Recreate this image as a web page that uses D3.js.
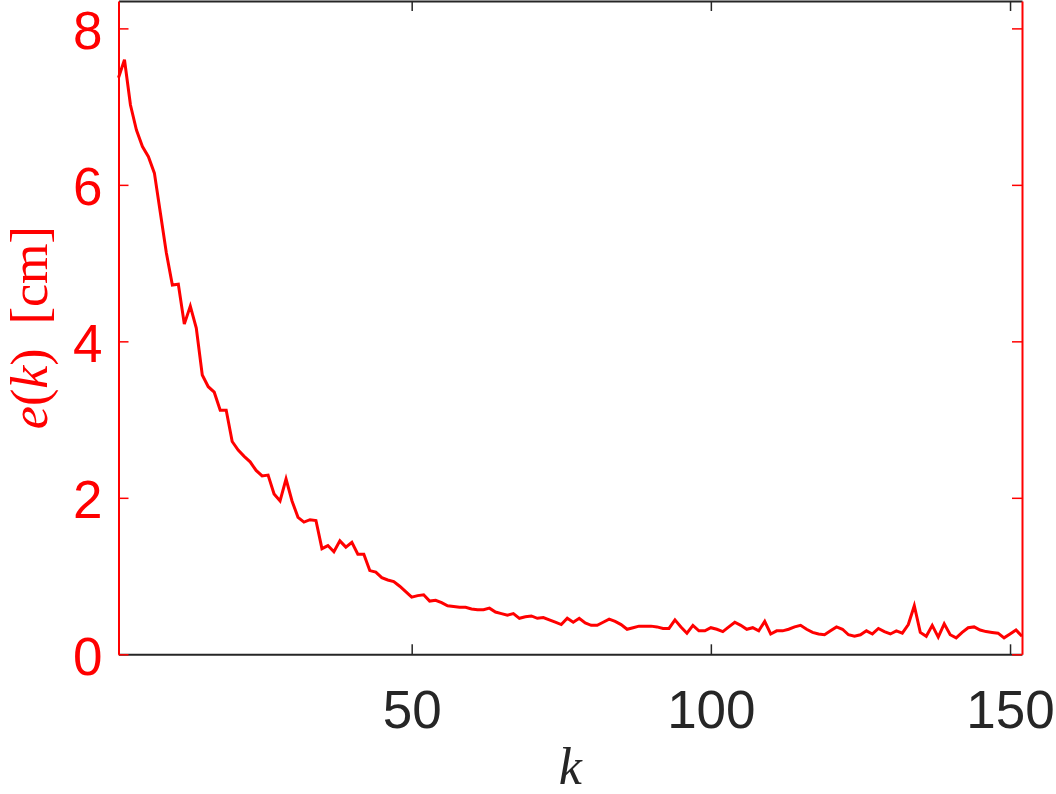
<!DOCTYPE html>
<html>
<head>
<meta charset="utf-8">
<script src="https://cdn.jsdelivr.net/npm/d3@7"></script>
<style>
  html, body { margin: 0; padding: 0; background: #fff; }
  svg { display: block; }
</style>
</head>
<body>
<svg id="chart" width="1056" height="794"></svg>
<script>
// ---- data ----
const kValues = d3.range(1, 153);
const errorValues = [
  7.37, 7.60, 7.02, 6.70, 6.49, 6.36, 6.15, 5.64, 5.13, 4.72,
  4.73, 4.22, 4.45, 4.17, 3.57, 3.42, 3.35, 3.12, 3.12, 2.72,
  2.61, 2.53, 2.46, 2.35, 2.28, 2.29, 2.05, 1.96, 2.24, 1.96,
  1.75, 1.69, 1.72, 1.71, 1.35, 1.39, 1.31, 1.45, 1.37, 1.43,
  1.28, 1.28, 1.07, 1.05, 0.98, 0.95, 0.93, 0.87, 0.80, 0.73,
  0.75, 0.76, 0.68, 0.69, 0.66, 0.62, 0.61, 0.60, 0.60, 0.58,
  0.57, 0.57, 0.59, 0.54, 0.52, 0.50, 0.52, 0.46, 0.48, 0.49,
  0.46, 0.47, 0.44, 0.41, 0.38, 0.46, 0.41, 0.46, 0.40, 0.37,
  0.37, 0.41, 0.45, 0.42, 0.38, 0.32, 0.34, 0.36, 0.36, 0.36,
  0.35, 0.33, 0.33, 0.44, 0.35, 0.27, 0.37, 0.30, 0.30, 0.34,
  0.32, 0.29, 0.35, 0.41, 0.37, 0.32, 0.34, 0.30, 0.42, 0.26,
  0.30, 0.30, 0.32, 0.35, 0.37, 0.32, 0.28, 0.26, 0.25, 0.30,
  0.35, 0.32, 0.25, 0.23, 0.25, 0.30, 0.26, 0.33, 0.29, 0.26,
  0.30, 0.27, 0.38, 0.62, 0.28, 0.23, 0.37, 0.22, 0.39, 0.25,
  0.21, 0.28, 0.34, 0.35, 0.31, 0.29, 0.28, 0.27, 0.21, 0.26,
  0.31, 0.23
];
const xTicks = [50, 100, 150];
const yTicks = [0, 2, 4, 6, 8];
const xDomain = [1, 152];
const yDomain = [0, 8.35];

// ---- layout ----
const L = 118.5, R = 1022, T = 1, B = 654.3;
const RED = "#ff0000", GRAY = "#262626";
const FONT = "'Liberation Sans', Arial, Helvetica, sans-serif";
const SERIF = "'Liberation Serif', 'DejaVu Serif', serif";

const svg = d3.select("#chart");
const x = d3.scaleLinear().domain(xDomain).range([L, R]);
const y = d3.scaleLinear().domain(yDomain).range([B, T]);

const data = kValues.map((k, i) => ({k, e: errorValues[i]}));

// data line
svg.append("path")
  .datum(data)
  .attr("fill", "none")
  .attr("stroke", RED)
  .attr("stroke-width", 3)
  .attr("stroke-linejoin", "miter")
  .attr("d", d3.line().x(d => x(d.k)).y(d => y(d.e)));

// bottom axis
const xAxisB = svg.append("g").attr("transform", `translate(0,${B})`)
  .call(d3.axisBottom(x).tickValues(xTicks).tickSizeInner(-10).tickSizeOuter(0).tickPadding(0).tickFormat(d3.format("d")));
xAxisB.select(".domain").attr("stroke", GRAY).attr("stroke-width", 2);
xAxisB.selectAll(".tick line").attr("stroke", GRAY).attr("stroke-width", 1.5);
xAxisB.selectAll(".tick text")
  .attr("fill", GRAY).attr("font-family", FONT).attr("font-size", 53)
  .attr("y", 74).attr("dy", 0);

// top axis
const xAxisT = svg.append("g").attr("transform", `translate(0,${T})`)
  .call(d3.axisTop(x).tickValues(xTicks).tickSizeInner(-10).tickSizeOuter(0).tickFormat(""));
xAxisT.select(".domain").attr("stroke", GRAY).attr("stroke-width", 2);
xAxisT.selectAll(".tick line").attr("stroke", GRAY).attr("stroke-width", 1.5);

// left axis
const yAxisL = svg.append("g").attr("transform", `translate(${L},0)`)
  .call(d3.axisLeft(y).tickValues(yTicks).tickSizeInner(-10).tickSizeOuter(0).tickPadding(0).tickFormat(d3.format("d")));
yAxisL.select(".domain").attr("stroke", RED).attr("stroke-width", 2);
yAxisL.selectAll(".tick line").attr("stroke", RED).attr("stroke-width", 1.5);
yAxisL.selectAll(".tick text")
  .attr("fill", RED).attr("font-family", FONT).attr("font-size", 53)
  .attr("x", -16).attr("dy", 0).attr("y", 20);

// right axis
const yAxisR = svg.append("g").attr("transform", `translate(${R},0)`)
  .call(d3.axisRight(y).tickValues(yTicks).tickSizeInner(-10).tickSizeOuter(0).tickFormat(""));
yAxisR.select(".domain").attr("stroke", RED).attr("stroke-width", 2);
yAxisR.selectAll(".tick line").attr("stroke", RED).attr("stroke-width", 1.5);

// x label
svg.append("text")
  .attr("x", (L + R) / 2).attr("y", 784)
  .attr("text-anchor", "middle")
  .attr("font-family", SERIF).attr("font-size", 52).attr("font-style", "italic")
  .attr("fill", GRAY)
  .text("k");

// y label
const yl = svg.append("text")
  .attr("transform", `translate(47,${(T + B) / 2}) rotate(-90)`)
  .attr("text-anchor", "middle")
  .attr("font-family", SERIF).attr("font-size", 52)
  .attr("fill", RED);
yl.append("tspan").attr("font-style", "italic").text("e");
yl.append("tspan").text("(");
yl.append("tspan").attr("font-style", "italic").text("k");
yl.append("tspan").text(")");
yl.append("tspan").attr("dx", 24).text("[cm]");
</script>
</body>
</html>
